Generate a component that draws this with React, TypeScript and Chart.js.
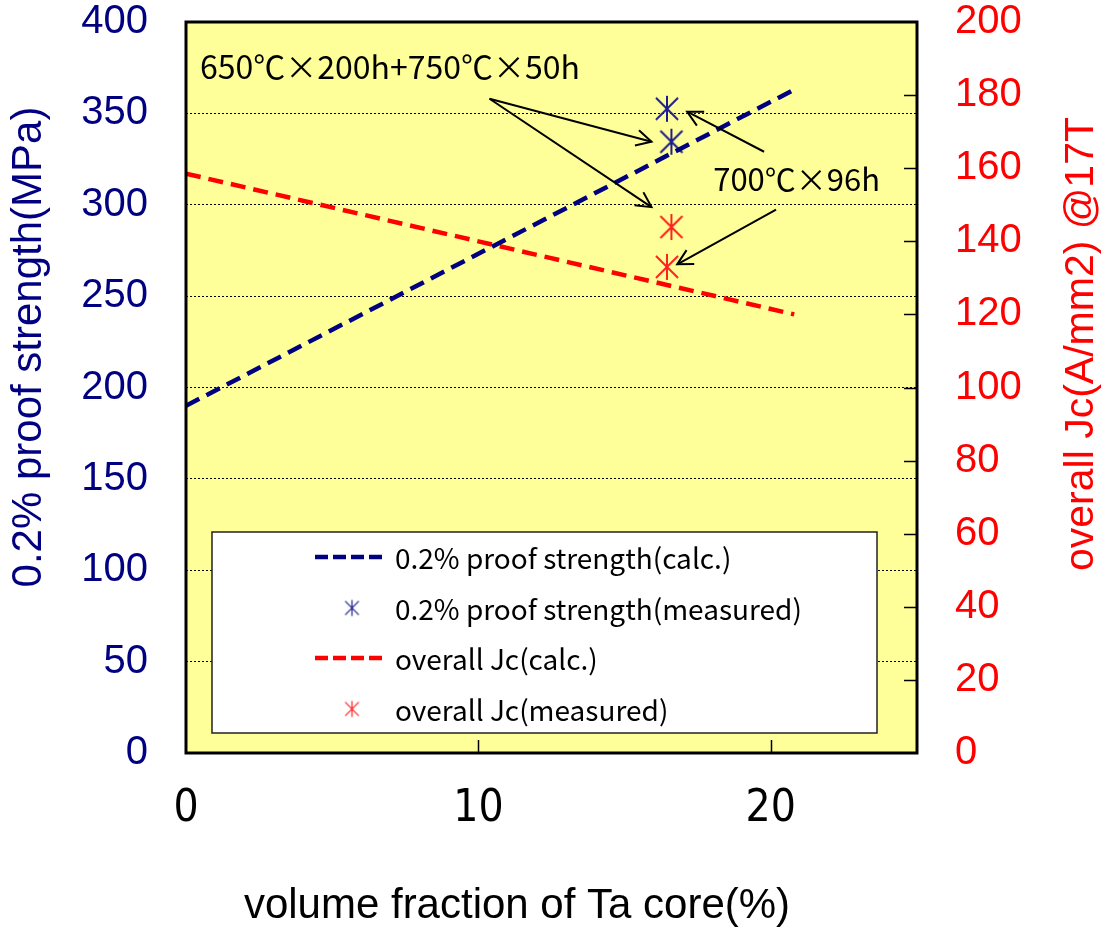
import React, { useEffect, useRef } from "react";
import { Chart, registerables } from "chart.js";

Chart.register(...registerables);

// ---- data ----
const calcFraction = [0, 20.8];
const strengthCalc = [190, 363];
const jcCalc = [158.5, 120];

const strengthMeasuredFraction = [16.45, 16.6];
const strengthMeasured = [352.5, 334.5];
const jcMeasuredFraction = [16.6, 16.45];
const jcMeasured = [143.9, 133];

const xTickValues = [0, 10, 20];

const xTitle = "volume fraction of Ta core(%)";
const leftTitle = "0.2% proof strength(MPa)";
const rightTitle = "overall Jc(A/mm2) @17T";

const legendLabels = [
  "0.2% proof strength(calc.)",
  "0.2% proof strength(measured)",
  "overall Jc(calc.)",
  "overall Jc(measured)",
];

// annotations in data coordinates (x, left-axis y)
const noteTexts = ["650℃×200h+750℃×50h", "700℃×96h"];
const noteX = [0.48, 18.03];
const noteY = [375.5, 313.8];
const arrowFromX = [10.38, 10.38, 19.77, 20.18];
const arrowFromY = [358, 358, 329, 297.4];
const arrowToX = [15.92, 15.92, 17.14, 16.8];
const arrowToY = [334.5, 298.7, 350.9, 267.4];

const NAVY = "#000080";
const RED = "#ff0000";
const BLUE_STAR = "#1c1c8c";
const RED_STAR = "#ff2020";

function makeAsterisk(color: string, half: number, lw: number) {
  const c = document.createElement("canvas");
  const s = Math.ceil(half * 2 + lw * 2);
  c.width = s;
  c.height = s;
  const g = c.getContext("2d")!;
  const m = s / 2;
  g.strokeStyle = color;
  g.lineWidth = lw;
  g.beginPath();
  g.moveTo(m, m - half);
  g.lineTo(m, m + half);
  g.moveTo(m - half * 0.85, m - half * 0.85);
  g.lineTo(m + half * 0.85, m + half * 0.85);
  g.moveTo(m + half * 0.85, m - half * 0.85);
  g.lineTo(m - half * 0.85, m + half * 0.85);
  g.stroke();
  return c;
}

function drawArrow(ctx: CanvasRenderingContext2D, x1: number, y1: number, x2: number, y2: number) {
  ctx.beginPath();
  ctx.moveTo(x1, y1);
  ctx.lineTo(x2, y2);
  ctx.stroke();
  const a = Math.atan2(y2 - y1, x2 - x1);
  const L = 17;
  const w = Math.PI / 6.5;
  ctx.beginPath();
  ctx.moveTo(x2 - L * Math.cos(a - w), y2 - L * Math.sin(a - w));
  ctx.lineTo(x2, y2);
  ctx.lineTo(x2 - L * Math.cos(a + w), y2 - L * Math.sin(a + w));
  ctx.stroke();
}

const noPadY = (w: number) => (s: any) => {
  s.width = w;
  s.paddingTop = 0;
  s.paddingBottom = 0;
};

export default function App() {
  const ref = useRef<HTMLCanvasElement>(null);

  useEffect(() => {
    const canvas = ref.current!;
    const starBlue = makeAsterisk(BLUE_STAR, 13, 2);
    const starRed = makeAsterisk(RED_STAR, 13, 2);
    const starBlueSmall = makeAsterisk(BLUE_STAR, 8, 1.2);
    const starRedSmall = makeAsterisk(RED_STAR, 8, 1.2);

    const bgPlugin = {
      id: "bg",
      beforeDraw(chart: any) {
        const { ctx, chartArea: a } = chart;
        ctx.save();
        ctx.fillStyle = "#ffffff";
        ctx.fillRect(0, 0, chart.width, chart.height);
        ctx.fillStyle = "#ffff99";
        ctx.fillRect(a.left, a.top, a.right - a.left, a.bottom - a.top);
        ctx.restore();
      },
    };

    const decoPlugin = {
      id: "deco",
      afterDatasetsDraw(chart: any) {
        const { ctx, chartArea: a, scales } = chart;
        const sx = scales.x;
        const sy = scales.y;
        const sy1 = scales.y1;
        ctx.save();
        // inward ticks
        ctx.strokeStyle = "#000";
        ctx.lineWidth = 1.5;
        ctx.beginPath();
        sy1.ticks.forEach((t: any) => {
          if (t.value <= 0 || t.value >= 200) return;
          const y = Math.round(sy1.getPixelForValue(t.value)) + 0.5;
          ctx.moveTo(a.right - 13, y);
          ctx.lineTo(a.right, y);
        });
        sx.ticks.forEach((t: any) => {
          if (t.value <= 0 || t.value >= 25) return;
          const x = Math.round(sx.getPixelForValue(t.value)) + 0.5;
          ctx.moveTo(x, a.bottom - 13);
          ctx.lineTo(x, a.bottom);
        });
        ctx.stroke();

        // frame
        ctx.lineWidth = 3;
        ctx.strokeStyle = "#000";
        ctx.strokeRect(a.left, a.top, a.right - a.left, a.bottom - a.top);

        // annotations
        ctx.fillStyle = "#000";
        ctx.textBaseline = "middle";
        ctx.textAlign = "left";
        noteTexts.forEach((t, i) => {
          ctx.font = (i === 0 ? "32px" : "31px") + ' "Noto Sans CJK JP", "Liberation Sans", sans-serif';
          ctx.fillText(t, sx.getPixelForValue(noteX[i]), sy.getPixelForValue(noteY[i]));
        });
        ctx.lineWidth = 2;
        ctx.strokeStyle = "#000";
        for (let i = 0; i < arrowFromX.length; i++) {
          drawArrow(
            ctx,
            sx.getPixelForValue(arrowFromX[i]),
            sy.getPixelForValue(arrowFromY[i]),
            sx.getPixelForValue(arrowToX[i]),
            sy.getPixelForValue(arrowToY[i])
          );
        }

        // legend
        const lx = a.left + 26;
        const ly = a.bottom - 221;
        const lw = 665;
        const lh = 201;
        ctx.fillStyle = "#ffffff";
        ctx.fillRect(lx, ly, lw, lh);
        ctx.lineWidth = 1.5;
        ctx.strokeStyle = "#222";
        ctx.strokeRect(lx, ly, lw, lh);
        const rowsY = [25, 76, 126, 177];
        const colors = [NAVY, BLUE_STAR, RED, RED_STAR];
        legendLabels.forEach((lab, i) => {
          const y = ly + rowsY[i];
          if (i % 2 === 0) {
            ctx.strokeStyle = colors[i];
            ctx.lineWidth = 4.5;
            ctx.setLineDash([13, 5]);
            ctx.beginPath();
            ctx.moveTo(lx + 103, y);
            ctx.lineTo(lx + 175, y);
            ctx.stroke();
            ctx.setLineDash([]);
          } else {
            const img = i === 1 ? starBlueSmall : starRedSmall;
            ctx.drawImage(img, lx + 140 - img.width / 2, y - img.height / 2);
          }
          ctx.fillStyle = "#000";
          ctx.font = '28px "Noto Sans CJK JP", "Liberation Sans", sans-serif';
          ctx.textAlign = "left";
          ctx.textBaseline = "middle";
          ctx.fillText(lab, lx + 183, y + 1);
        });

        // axis titles
        ctx.textAlign = "center";
        ctx.textBaseline = "middle";
        ctx.fillStyle = "#000";
        ctx.font = '42px "Liberation Sans", Arial, sans-serif';
        ctx.fillText(xTitle, 517, 906);

        ctx.save();
        ctx.translate(29, 347);
        ctx.rotate(-Math.PI / 2);
        ctx.fillStyle = NAVY;
        ctx.font = '42px "Liberation Sans", Arial, sans-serif';
        ctx.fillText(leftTitle, 0, 0);
        ctx.restore();

        ctx.save();
        ctx.translate(1082, 344);
        ctx.rotate(-Math.PI / 2);
        ctx.fillStyle = RED;
        ctx.font = '41px "Liberation Sans", Arial, sans-serif';
        ctx.fillText(rightTitle, 0, 0);
        ctx.restore();

        ctx.restore();
      },
    };

    const chart = new Chart(canvas, {
      type: "scatter",
      data: {
        datasets: [
          {
            label: legendLabels[0],
            data: calcFraction.map((x, i) => ({ x, y: strengthCalc[i] })),
            showLine: true,
            borderColor: NAVY,
            borderWidth: 4.5,
            borderDash: [15, 8],
            pointRadius: 0,
            yAxisID: "y",
          },
          {
            label: legendLabels[2],
            data: calcFraction.map((x, i) => ({ x, y: jcCalc[i] })),
            showLine: true,
            borderColor: RED,
            borderWidth: 4.5,
            borderDash: [15, 8],
            pointRadius: 0,
            yAxisID: "y1",
          },
          {
            label: legendLabels[1],
            data: strengthMeasuredFraction.map((x, i) => ({ x, y: strengthMeasured[i] })),
            pointStyle: starBlue as any,
            pointRadius: 13,
            yAxisID: "y",
          },
          {
            label: legendLabels[3],
            data: jcMeasuredFraction.map((x, i) => ({ x, y: jcMeasured[i] })),
            pointStyle: starRed as any,
            pointRadius: 13,
            yAxisID: "y1",
          },
        ],
      },
      options: {
        animation: false,
        responsive: false,
        layout: { padding: { top: 22, left: 0, right: 0, bottom: 0 } },
        plugins: {
          legend: { display: false },
          tooltip: { enabled: false },
        },
        scales: {
          x: {
            type: "linear",
            position: "bottom",
            min: 0,
            max: 25,
            afterBuildTicks: (s: any) => {
              s.ticks = xTickValues.map((v) => ({ value: v }));
            },
            afterFit: (s: any) => {
              s.height = 176;
              s.paddingLeft = 0;
              s.paddingRight = 0;
            },
            grid: { display: false, drawTicks: false },
            border: { display: false },
            ticks: {
              color: "#000",
              padding: 30,
              maxRotation: 0,
              font: { family: '"Liberation Sans Narrow", "DejaVu Sans Condensed", "Liberation Sans", sans-serif', size: 44 },
            },
          },
          y: {
            type: "linear",
            position: "left",
            min: 0,
            max: 400,
            ticks: {
              stepSize: 50,
              color: NAVY,
              padding: 38,
              font: { family: '"Liberation Sans", Arial, sans-serif', size: 40 },
            },
            afterFit: noPadY(186),
            grid: { color: "#000", lineWidth: 1, drawTicks: false },
            border: { display: false, dash: [2, 2] },
          },
          y1: {
            type: "linear",
            position: "right",
            min: 0,
            max: 200,
            ticks: {
              stepSize: 20,
              color: RED,
              padding: 38,
              font: { family: '"Liberation Sans", Arial, sans-serif', size: 40 },
            },
            afterFit: noPadY(188),
            grid: { display: false, drawTicks: false },
            border: { display: false },
          },
        },
      },
      plugins: [bgPlugin, decoPlugin],
    } as any);

    return () => chart.destroy();
  }, []);

  return (
    <div style={{ position: "absolute", left: 0, top: 0, width: 1105, height: 929 }}>
      <canvas ref={ref} width={1105} height={929} />
    </div>
  );
}
